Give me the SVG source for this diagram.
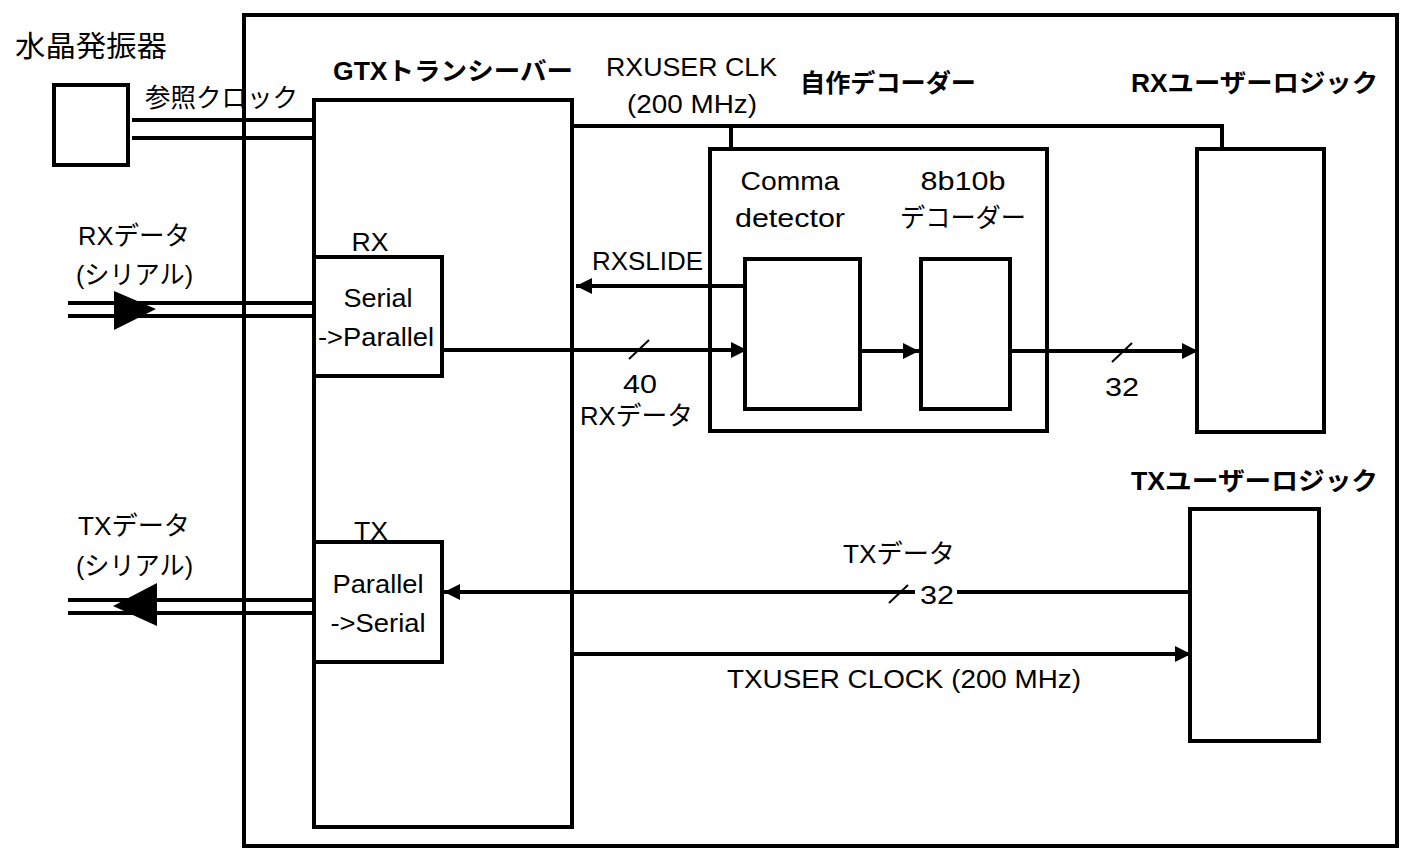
<svg xmlns="http://www.w3.org/2000/svg" width="1420" height="856" viewBox="0 0 1420 856">
<defs>
<style>
.b{fill:none;stroke:#000;stroke-width:4}
.w{fill:#fff;stroke:#000;stroke-width:4}
.l{fill:none;stroke:#000;stroke-width:4}
.s{stroke:#000;stroke-width:2}
text{font-family:"Liberation Sans","Noto Sans CJK JP",sans-serif;font-size:26px;fill:#000}
.bold{font-weight:bold;font-size:25px}
.c{text-anchor:middle}
</style>
<marker id="ah" markerUnits="userSpaceOnUse" markerWidth="18" markerHeight="18" refX="16" refY="8" orient="auto">
<path d="M0,0 L16,8 L0,16 z" fill="#000"/>
</marker>
</defs>
<rect width="1420" height="856" fill="#fff"/>
<g id="frame"><rect class="b" x="244" y="15" width="1153" height="831"/></g>
<g id="osc">
<rect class="b" x="54" y="85" width="74" height="80"/>
<text x="15" y="57" style="font-size:29px" textLength="152" lengthAdjust="spacingAndGlyphs">水晶発振器</text>
</g>
<g id="gtx">
<rect class="b" x="314" y="100" width="258" height="727"/>
<text x="333" y="80" class="bold" textLength="240" lengthAdjust="spacingAndGlyphs">GTXトランシーバー</text>
</g>
<g id="rx">
<rect class="w" x="314" y="257" width="128" height="119"/>
<text x="370" y="251" class="c" textLength="37" lengthAdjust="spacingAndGlyphs">RX</text>
<text x="378" y="307" class="c" textLength="69" lengthAdjust="spacingAndGlyphs">Serial</text>
<text x="376" y="346" class="c" textLength="116" lengthAdjust="spacingAndGlyphs">->Parallel</text>
</g>
<g id="tx">
<rect class="w" x="314" y="542" width="128" height="120"/>
<text x="371" y="540" class="c" textLength="34" lengthAdjust="spacingAndGlyphs">TX</text>
<text x="378" y="593" class="c" textLength="91" lengthAdjust="spacingAndGlyphs">Parallel</text>
<text x="378" y="632" class="c" textLength="95" lengthAdjust="spacingAndGlyphs">->Serial</text>
</g>
<g id="decoder">
<rect class="b" x="710" y="149" width="337" height="282"/>
<text x="800" y="92" class="bold" textLength="176" lengthAdjust="spacingAndGlyphs">自作デコーダー</text>
<text x="790" y="190" class="c" textLength="99" lengthAdjust="spacingAndGlyphs">Comma</text>
<text x="790" y="227" class="c" textLength="110" lengthAdjust="spacingAndGlyphs">detector</text>
<text x="963" y="190" class="c" textLength="85" lengthAdjust="spacingAndGlyphs">8b10b</text>
<text x="963" y="227" class="c" textLength="126" lengthAdjust="spacingAndGlyphs">デコーダー</text>
</g>
<g id="comma">
<rect class="b" x="745" y="259" width="115" height="150"/>
</g>
<g id="dec8b10b">
<rect class="b" x="921" y="259" width="89" height="150"/>
</g>
<g id="rxuser">
<rect class="b" x="1197" y="149" width="127" height="283"/>
<text x="1131" y="92" class="bold" textLength="247" lengthAdjust="spacingAndGlyphs">RXユーザーロジック</text>
</g>
<g id="txuser">
<rect class="b" x="1190" y="509" width="129" height="232"/>
<text x="1131" y="490" class="bold" textLength="247" lengthAdjust="spacingAndGlyphs">TXユーザーロジック</text>
</g>
<g id="connectors">
<line class="l" x1="132" y1="120" x2="314" y2="120"/>
<line class="l" x1="132" y1="138" x2="314" y2="138"/>
<text x="145" y="107" textLength="153" lengthAdjust="spacingAndGlyphs">参照クロック</text>
<line class="l" x1="68" y1="303" x2="314" y2="303"/>
<line class="l" x1="68" y1="316" x2="314" y2="316"/>
<polygon points="114,291 156,309 114,330" fill="#000"/>
<text x="78" y="245" textLength="112" lengthAdjust="spacingAndGlyphs">RXデータ</text>
<text x="76" y="284" textLength="117" lengthAdjust="spacingAndGlyphs">(シリアル)</text>
<line class="l" x1="68" y1="600" x2="314" y2="600"/>
<line class="l" x1="68" y1="613" x2="314" y2="613"/>
<polygon points="157,583 113,606 157,626" fill="#000"/>
<text x="78" y="535" textLength="112" lengthAdjust="spacingAndGlyphs">TXデータ</text>
<text x="76" y="575" textLength="117" lengthAdjust="spacingAndGlyphs">(シリアル)</text>
<polyline class="l" points="574,126 1222,126 1222,149"/>
<line class="l" x1="731" y1="126" x2="731" y2="149"/>
<text x="606" y="76" textLength="171" lengthAdjust="spacingAndGlyphs">RXUSER CLK</text>
<text x="627" y="113" textLength="130" lengthAdjust="spacingAndGlyphs">(200 MHz)</text>
<line class="l" x1="745" y1="286" x2="576" y2="286" marker-end="url(#ah)"/>
<text x="592" y="270" textLength="111" lengthAdjust="spacingAndGlyphs">RXSLIDE</text>
<line class="l" x1="442" y1="350" x2="747" y2="350" marker-end="url(#ah)"/>
<line class="s" x1="629" y1="359" x2="649" y2="340"/>
<text x="640" y="393" class="c" textLength="34" lengthAdjust="spacingAndGlyphs">40</text>
<text x="580" y="425" textLength="113" lengthAdjust="spacingAndGlyphs">RXデータ</text>
<line class="l" x1="860" y1="351" x2="919" y2="351" marker-end="url(#ah)"/>
<line class="l" x1="1010" y1="351" x2="1198" y2="351" marker-end="url(#ah)"/>
<line class="s" x1="1112" y1="362" x2="1132" y2="343"/>
<text x="1122" y="396" class="c" textLength="34" lengthAdjust="spacingAndGlyphs">32</text>
<line class="l" x1="1190" y1="592" x2="444" y2="592" marker-end="url(#ah)"/>
<rect x="915" y="580" width="42" height="26" fill="#fff"/>
<line class="s" x1="889" y1="603" x2="908" y2="585"/>
<text x="937" y="604" class="c" textLength="34" lengthAdjust="spacingAndGlyphs">32</text>
<text x="843" y="563" textLength="112" lengthAdjust="spacingAndGlyphs">TXデータ</text>
<line class="l" x1="574" y1="654" x2="1191" y2="654" marker-end="url(#ah)"/>
<text x="727" y="688" textLength="354" lengthAdjust="spacingAndGlyphs">TXUSER CLOCK (200 MHz)</text>
</g>
</svg>
